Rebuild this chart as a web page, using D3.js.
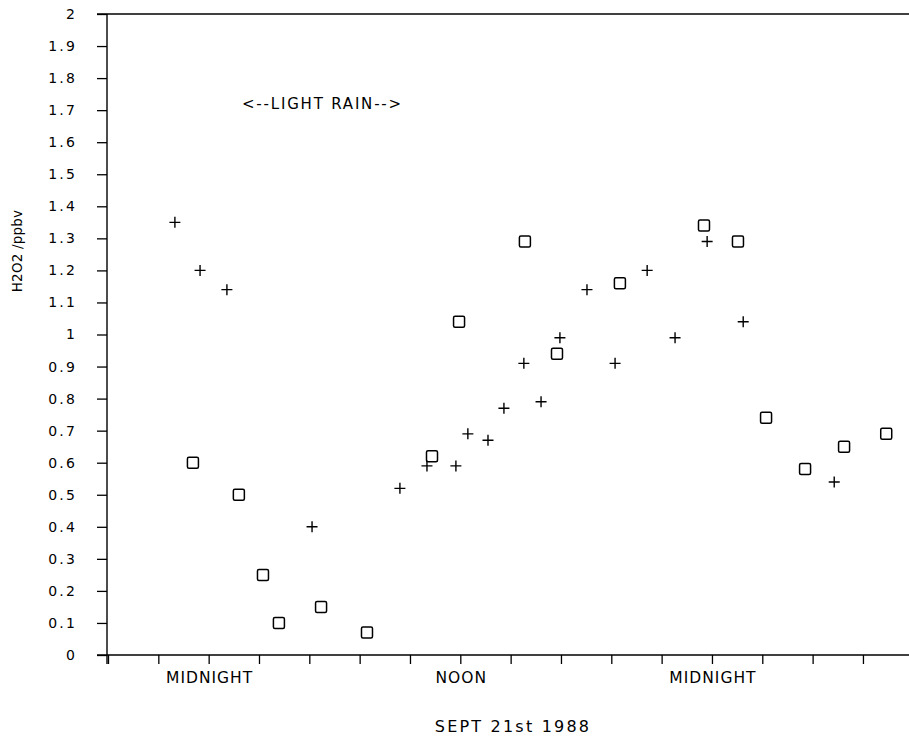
<!DOCTYPE html>
<html>
<head>
    <title>H2O2 Sept 21st 1988</title>
    <script src="https://d3js.org/d3.v7.min.js"></script>
    <style type="text/css">
        html, body { margin: 0; padding: 0; background: #fff; }
        svg text { font-family: "DejaVu Sans", sans-serif; fill: #000; }
    </style>
</head>
<body>
    <svg id="main"></svg>
    <script>
      // settings
      const width  = 909;
      const height = 736;
      const margin = {left: 108, top: 14, bottom: 655};

      // data: hours relative to the first midnight, H2O2 in ppbv
      const plusHours  = [-1.61, -0.41, 0.87, 4.93, 9.12, 10.41, 11.79, 12.36, 13.32, 14.08,
                          15.03, 15.85, 16.75, 18.04, 19.38, 20.91, 22.24, 23.77, 25.49, 29.83];
      const plusValues = [1.35, 1.20, 1.14, 0.40, 0.52, 0.59, 0.59, 0.69, 0.67, 0.77,
                          0.91, 0.79, 0.99, 1.14, 0.91, 1.20, 0.99, 1.29, 1.04, 0.54];

      const boxHours   = [-0.75, 1.44, 2.59, 3.35, 5.36, 7.55, 10.65, 11.94, 15.08, 16.61,
                          19.61, 23.62, 25.24, 26.58, 28.44, 30.30, 32.31];
      const boxValues  = [0.60, 0.50, 0.25, 0.10, 0.15, 0.07, 0.62, 1.04, 1.29, 0.94,
                          1.16, 1.34, 1.29, 0.74, 0.58, 0.65, 0.69];

      const timeLabels = ["MIDNIGHT", "NOON", "MIDNIGHT"];
      const timeHours  = [0, 12, 24];
      const yTicks     = d3.range(0, 21).map(i => i / 10);
      const xTicks     = d3.range(-2, 15).map(i => i * 2.4);

      const svg = d3.select("#main")
        .attr("width", width)
        .attr("height", height);

      const x = d3.scaleLinear().domain([-4.8, 33.6]).range([margin.left, margin.left + 16 * 50.33]);
      const y = d3.scaleLinear().domain([0, 2]).range([margin.bottom, margin.top]);

      // y axis
      const yAxis = d3.axisLeft(y)
        .tickValues(yTicks)
        .tickSize(10)
        .tickPadding(20)
        .tickFormat(d => String(+d.toFixed(1)));
      const gy = svg.append("g")
        .attr("transform", `translate(${margin.left - 1},0)`)
        .call(yAxis);
      gy.select(".domain").remove();
      gy.selectAll("line").attr("stroke", "#000").attr("stroke-width", 1.3);
      gy.selectAll("text")
        .attr("font-size", 14)
        .attr("letter-spacing", 2.2)
        .attr("font-family", "DejaVu Sans, sans-serif");

      // x axis
      const xAxis = d3.axisBottom(x)
        .tickValues(xTicks)
        .tickSize(9)
        .tickFormat("");
      const gx = svg.append("g")
        .attr("transform", `translate(0,${margin.bottom})`)
        .call(xAxis);
      gx.select(".domain").remove();
      gx.selectAll("line").attr("stroke", "#000").attr("stroke-width", 1.3);

      // frame lines
      svg.append("line")
        .attr("x1", margin.left - 1).attr("x2", margin.left - 1)
        .attr("y1", y(2)).attr("y2", margin.bottom + 9)
        .attr("stroke", "#000").attr("stroke-width", 1.4);
      svg.append("line")
        .attr("x1", margin.left - 11).attr("x2", width)
        .attr("y1", y(0)).attr("y2", y(0))
        .attr("stroke", "#000").attr("stroke-width", 1.4);
      svg.append("line")
        .attr("x1", margin.left - 11).attr("x2", width)
        .attr("y1", y(2)).attr("y2", y(2))
        .attr("stroke", "#000").attr("stroke-width", 1.4);

      // time labels
      svg.selectAll(".tlabel")
        .data(timeLabels)
        .enter()
        .append("text")
        .attr("class", "tlabel")
        .attr("x", (d, i) => x(timeHours[i]) + 1)
        .attr("y", 683)
        .attr("text-anchor", "middle")
        .attr("font-size", 15.5)
        .attr("letter-spacing", 1)
        .text(d => d);

      svg.append("text")
        .attr("x", 513)
        .attr("y", 732)
        .attr("text-anchor", "middle")
        .attr("font-size", 16)
        .attr("letter-spacing", 2.2)
        .text("SEPT 21st 1988");

      svg.append("text")
        .attr("transform", "translate(22,251) rotate(-90)")
        .attr("text-anchor", "middle")
        .attr("font-size", 13.5)
        .attr("letter-spacing", 0.2)
        .text("H2O2 /ppbv");

      svg.append("text")
        .attr("x", 242)
        .attr("y", 109)
        .attr("font-size", 15)
        .attr("letter-spacing", 1.8)
        .text("<--LIGHT RAIN-->");

      // plus markers
      const plus = plusHours.map((h, i) => ({h: h, v: plusValues[i]}));
      svg.selectAll(".plus")
        .data(plus)
        .enter()
        .append("path")
        .attr("class", "plus")
        .attr("d", d => {
          const cx = x(d.h), cy = y(d.v);
          return `M${cx - 5.5},${cy}H${cx + 5.5}M${cx},${cy - 5.5}V${cy + 5.5}`;
        })
        .attr("stroke", "#000")
        .attr("stroke-width", 1.4)
        .attr("fill", "none");

      // square markers
      const boxes = boxHours.map((h, i) => ({h: h, v: boxValues[i]}));
      svg.selectAll(".box")
        .data(boxes)
        .enter()
        .append("rect")
        .attr("class", "box")
        .attr("x", d => x(d.h) - 5.5)
        .attr("y", d => y(d.v) - 5.5)
        .attr("width", 11)
        .attr("height", 11)
        .attr("rx", 1.5)
        .attr("stroke", "#000")
        .attr("stroke-width", 1.5)
        .attr("fill", "none");
    </script>
</body>
</html>
